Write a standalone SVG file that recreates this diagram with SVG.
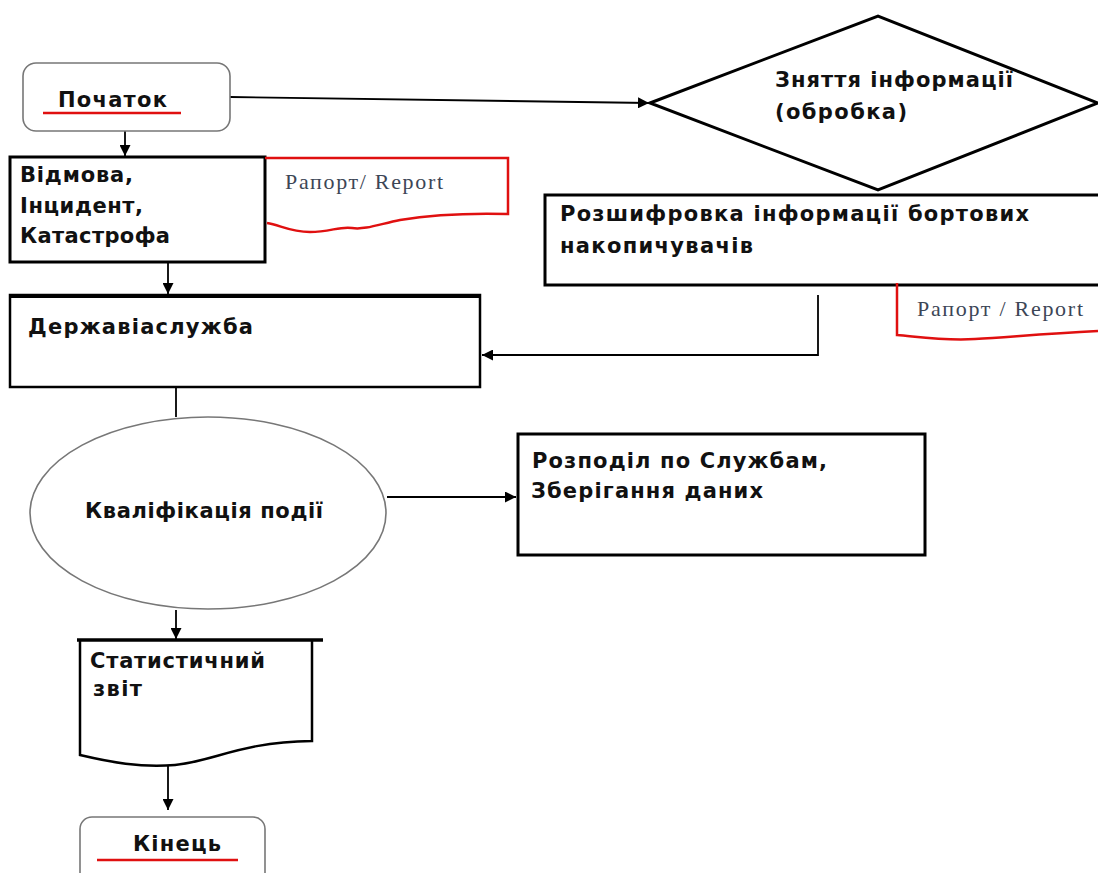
<svg xmlns="http://www.w3.org/2000/svg" width="1098" height="873" viewBox="0 0 1098 873">
<defs>
<style>
.t{font-family:'DejaVu Sans',sans-serif;font-weight:bold;font-size:21px;fill:#111}
.r{font-family:'Liberation Serif',serif;font-size:22px;fill:#3c4656}
.box{fill:#fff;stroke:#000;stroke-width:3}
.soft{fill:#fff;stroke:#777;stroke-width:1.6}
.red{fill:none;stroke:#e01010;stroke-width:2.5}
.c{fill:none;stroke:#000;stroke-width:1.8}
</style>
<marker id="a" viewBox="0 0 10 10" refX="10" refY="5" markerWidth="11" markerHeight="11" markerUnits="userSpaceOnUse" orient="auto">
<path d="M0,0 L10,5 L0,10 Z" fill="#000"/>
</marker>
</defs>
<rect width="1098" height="873" fill="#fff"/>

<g id="connectors">
<line class="c" x1="125" y1="131" x2="125" y2="156" marker-end="url(#a)"/>
<line class="c" x1="230" y1="97" x2="649" y2="103" marker-end="url(#a)"/>
<line class="c" x1="168" y1="262" x2="168" y2="294" marker-end="url(#a)"/>
<polyline class="c" points="818,295 818,355 482,355" marker-end="url(#a)"/>
<line class="c" x1="176" y1="387" x2="176" y2="417"/>
<line class="c" x1="387" y1="497" x2="516" y2="497" marker-end="url(#a)"/>
<line class="c" x1="176" y1="610" x2="176" y2="639" marker-end="url(#a)"/>
<line class="c" x1="168" y1="766" x2="168" y2="810" marker-end="url(#a)"/>
</g>

<g id="start">
<rect class="soft" x="23" y="63" width="207" height="68" rx="13"/>
<text class="t" x="58" y="107" textLength="109" lengthAdjust="spacing">Початок</text>
<line x1="43" y1="113" x2="181" y2="113" stroke="#e01010" stroke-width="2.5"/>
</g>

<g id="failure">
<rect class="box" x="10" y="157" width="255" height="105"/>
<text class="t" x="20" y="182" textLength="113" lengthAdjust="spacing">Відмова,</text>
<text class="t" x="20" y="213" textLength="123" lengthAdjust="spacing">Інцидент,</text>
<text class="t" x="20" y="243" textLength="150" lengthAdjust="spacing">Катастрофа</text>
</g>

<g id="report1">
<path class="red" d="M265,158 L508,158 L508,214 C470,213 430,215 400,220 C380,224 365,230 352,228 C340,226 330,232 310,232 C290,232 280,225 267,223"/>
<text class="r" x="285" y="189" textLength="158" lengthAdjust="spacing">Рапорт/ Report</text>
</g>

<g id="extract">
<polygon points="650,103 878,16 1098,103 878,190" fill="#fff" stroke="#000" stroke-width="3"/>
<text class="t" x="775" y="87" textLength="238" lengthAdjust="spacing">Зняття інформації</text>
<text class="t" x="775" y="119" textLength="132" lengthAdjust="spacing">(обробка)</text>
</g>

<g id="decode">
<rect class="box" x="545" y="195" width="560" height="90"/>
<text class="t" x="560" y="221" textLength="469" lengthAdjust="spacing">Розшифровка інформації бортових</text>
<text class="t" x="560" y="253" textLength="193" lengthAdjust="spacing">накопичувачів</text>
</g>

<g id="report2">
<path class="red" d="M897,283 L897,335 C920,337 945,341 975,339 C1010,337 1040,334 1098,331"/>
<text class="r" x="917" y="316" textLength="166" lengthAdjust="spacing">Рапорт / Report</text>
</g>

<g id="aviaservice">
<rect x="10" y="295" width="470" height="92" fill="#fff" stroke="#000" stroke-width="2.5"/>
<line x1="9" y1="296" x2="481" y2="296" stroke="#000" stroke-width="4"/>
<text class="t" x="28" y="334" textLength="225" lengthAdjust="spacing">Державіаслужба</text>
</g>

<g id="qualification">
<ellipse class="soft" cx="208" cy="513" rx="178" ry="96"/>
<text class="t" x="85" y="518" textLength="238" lengthAdjust="spacing">Кваліфікація події</text>
</g>

<g id="distribution">
<rect class="box" x="518" y="434" width="407" height="121"/>
<text class="t" x="532" y="468" textLength="295" lengthAdjust="spacing">Розподіл по Службам,</text>
<text class="t" x="531" y="498" textLength="232" lengthAdjust="spacing">Зберігання даних</text>
</g>

<g id="statreport">
<path d="M80,640 L80,755 C110,762 140,768 175,765 C215,761 240,742 312,741 L312,640" fill="#fff" stroke="#000" stroke-width="2.5"/>
<line x1="77" y1="640" x2="323" y2="640" stroke="#000" stroke-width="3.5"/>
<text class="t" x="90" y="668" textLength="175" lengthAdjust="spacing">Статистичний</text>
<text class="t" x="93" y="696" textLength="49" lengthAdjust="spacing">звіт</text>
</g>

<g id="end">
<rect class="soft" x="80" y="817" width="185" height="70" rx="12"/>
<text class="t" x="133" y="851" textLength="88" lengthAdjust="spacing">Кінець</text>
<line x1="97" y1="860" x2="238" y2="860" stroke="#e01010" stroke-width="2.5"/>
</g>
</svg>
